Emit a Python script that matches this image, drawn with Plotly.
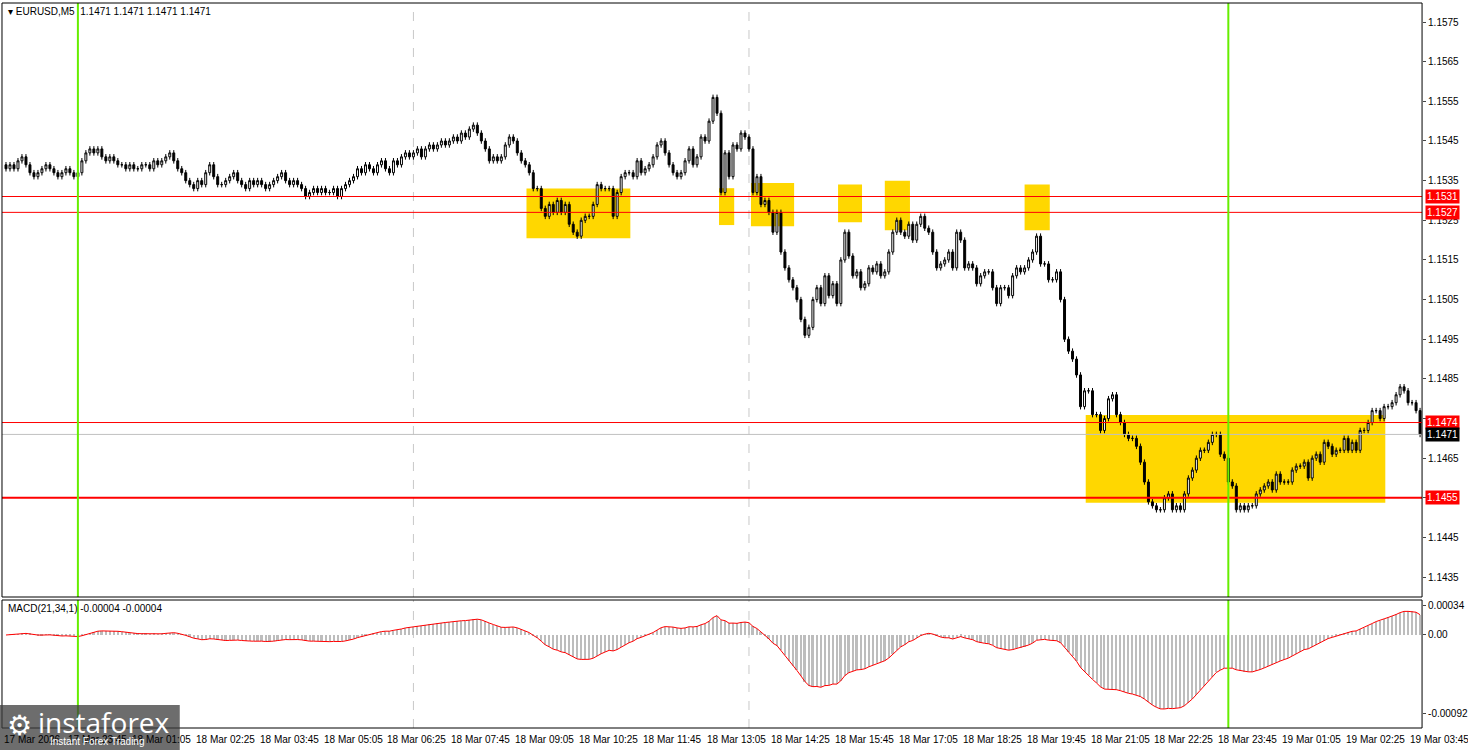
import plotly.graph_objects as go
import pandas as pd
import numpy as np

symbol = "EURUSD,M5"
start_time = "2026-03-17 22:30"
closes = [
 # i0-18
 1.1538,1.1539,1.1538,1.1540,1.1541,1.1539,1.1537,1.1536,1.1537,1.1538,1.1539,1.1538,1.1537,1.1536,1.1537,1.1538,1.1537,1.1536,1.1537,
 # i19-48
 1.1540,1.1542,1.1543,1.1542,1.1543,1.1541,1.1540,1.1541,1.1540,1.1539,1.1539,1.1538,1.1539,1.1538,1.1538,1.1539,1.1539,1.1538,1.1540,1.1539,
 1.1540,1.1541,1.1542,1.1540,1.1538,1.1537,1.1535,1.1534,1.1533,1.1535,
 # i49-85
 1.1534,1.1537,1.1539,1.1536,1.1534,1.1534,1.1535,1.1536,1.1537,1.1535,1.1534,1.1533,1.1535,1.1534,1.1535,1.1534,1.1533,1.1534,1.1535,1.1536,
 1.1537,1.1535,1.1534,1.1535,1.1534,1.1533,1.1531,1.1532,1.1533,1.1532,1.1533,1.1532,1.1532,1.1533,1.1531,1.1533,1.1534,
 # i86-101
 1.1535,1.1536,1.1538,1.1537,1.1539,1.1538,1.1537,1.1539,1.1540,1.1538,1.1537,1.1540,1.1539,1.1541,1.1542,1.1541,
 # i102-118
 1.1542,1.1543,1.1541,1.1543,1.1544,1.1543,1.1544,1.1545,1.1544,1.1545,1.1546,1.1545,1.1547,1.1546,1.1548,1.1549,1.1547,
 # i119-180
 1.1545,1.1543,1.1540,1.1541,1.1540,1.1541,1.1544,1.1546,1.1545,1.1542,1.1540,1.1539,1.1537,1.1533,1.1533,1.1528,1.1526,1.1529,1.1527,1.1530,
 1.1527,1.1529,1.1524,1.1522,1.1521,1.1525,1.1526,1.1526,1.1529,1.1534,1.1533,1.1533,1.1533,1.1526,1.1532,1.1536,1.1537,1.1537,1.1536,1.1540,
 1.1537,1.1538,1.1539,1.1541,1.1544,1.1545,1.1542,1.1539,1.1537,1.1536,1.1537,1.1540,1.1543,1.1539,1.1541,1.1546,1.1545,1.1550,1.1556,1.1552,
 1.1532,1.1542,
 # i181-235
 1.1536,1.1544,1.1543,1.1547,1.1546,1.1543,1.1532,1.1536,1.1529,1.1530,1.1527,1.1522,1.1527,1.1517,1.1513,1.1510,1.1508,1.1505,1.1500,1.1496,
 1.1498,1.1505,1.1508,1.1504,1.1511,1.1506,1.1509,1.1504,1.1515,1.1522,1.1516,1.1511,1.1512,1.1508,1.1509,1.1513,1.1512,1.1514,1.1511,1.1512,
 1.1517,1.1522,1.1525,1.1522,1.1521,1.1524,1.1520,1.1524,1.1526,1.1523,1.1522,1.1517,1.1513,1.1514,1.1515,
 # i236-292
 1.1517,1.1513,1.1522,1.1520,1.1513,1.1514,1.1513,1.1509,1.1511,1.1512,1.1512,1.1508,1.1504,1.1508,1.1508,1.1506,1.1511,1.1513,1.1512,1.1513,
 1.1515,1.1517,1.1521,1.1514,1.1514,1.1510,1.1510,1.1512,1.1505,1.1495,1.1492,1.1490,1.1486,1.1478,1.1482,1.1482,1.1476,1.1476,1.1472,1.1475,
 1.1480,1.1481,1.1476,1.1474,1.1471,1.1470,1.1470,1.1468,1.1464,1.1459,1.1454,1.1453,1.1452,1.1452,1.1455,1.1456,1.1452,
 # i293-354
 1.1453,1.1452,1.1456,1.1460,1.1462,1.1465,1.1467,1.1467,1.1469,1.1471,1.1471,1.1466,1.1465,1.1459,1.1458,1.1452,1.1453,1.1452,1.1453,1.1453,
 1.1456,1.1457,1.1458,1.1459,1.1457,1.1461,1.1459,1.1459,1.1459,1.1462,1.1463,1.1463,1.1464,1.1460,1.1465,1.1466,1.1464,1.1469,1.1468,1.1466,
 1.1467,1.1467,1.1470,1.1467,1.1469,1.1467,1.1472,1.1472,1.1474,1.1477,1.1477,1.1475,1.1478,1.1478,1.1479,1.1481,1.1483,1.1482,1.1479,1.1479,
 1.1477,1.1471,
]
first_open = 1.1539
wick = 0.00007

levels_red = [1.1531, 1.1527, 1.1474]
level_main = 1.1455
level_bid = 1.1471
# yellow zones: (start bar, end bar, low price, high price)
zones = [(130.3, 156.3, 1.15205, 1.15330), (178.5, 182.3, 1.15238, 1.15331),
         (186.5, 197.3, 1.15235, 1.15344), (208.3, 214.3, 1.15245, 1.15340),
         (220.0, 226.3, 1.15225, 1.15350), (255.0, 261.3, 1.15225, 1.15340),
         (270.3, 345.3, 1.14538, 1.14759)]
separator_bars = [18, 306]
grid_bars = [102, 186]
price_ticks = [1.1575,1.1565,1.1555,1.1545,1.1535,1.1525,1.1515,1.1505,1.1495,1.1485,1.1475,1.1465,1.1455,1.1445,1.1435]
hidden_ticks = [1.1475, 1.1455]
label_every = 16
first_label_bar = 15
macd_fast, macd_slow = 21, 34

n = len(closes)
idx = list(range(n))
opens = [first_open] + closes[:-1]
highs = [max(o, c) + wick for o, c in zip(opens, closes)]
lows = [min(o, c) - wick for o, c in zip(opens, closes)]
s = pd.Series(closes)
macd = (s.ewm(span=macd_fast, adjust=False).mean() - s.ewm(span=macd_slow, adjust=False).mean()).values

times = pd.date_range(start_time, periods=n + 20, freq="5min")

fig = go.Figure()
fig.add_trace(go.Candlestick(x=idx, open=opens, high=highs, low=lows, close=closes,
    increasing=dict(fillcolor="white", line=dict(color="black", width=1)),
    decreasing=dict(fillcolor="black", line=dict(color="black", width=1)),
    whiskerwidth=0, xaxis="x", yaxis="y", showlegend=False, hoverinfo="skip"))
fig.add_trace(go.Bar(x=idx, y=macd, marker=dict(color="#bdbdbd", line=dict(width=0)), width=0.5,
    xaxis="x2", yaxis="y2", showlegend=False))
fig.add_trace(go.Scatter(x=idx, y=macd, mode="lines", line=dict(color="red", width=1),
    xaxis="x2", yaxis="y2", showlegend=False))

xr = [-1, 354.5]
W, H = 1468, 750
xdom = [2 / W, 1424 / W]
FF = "Liberation Sans, Arial, sans-serif"
fnt = dict(family=FF, size=10, color="black")
fig.update_layout(width=W, height=H, margin=dict(l=0, r=0, t=0, b=0),
    paper_bgcolor="white", plot_bgcolor="white", font=fnt, bargap=0,
    xaxis=dict(domain=xdom, range=xr, showticklabels=False, showgrid=False, zeroline=False,
               rangeslider=dict(visible=False), anchor="y"),
    yaxis=dict(domain=[1 - 597 / H, 1 - 3 / H], range=[1.14300, 1.15798], side="right",
               tickvals=price_ticks,
               ticktext=["" if v in hidden_ticks else "%.4f" % v for v in price_ticks],
               ticks="outside", ticklen=3,
               showgrid=False, zeroline=False, anchor="x", tickfont=fnt),
    yaxis2=dict(domain=[1 - 728 / H, 1 - 600 / H], range=[-0.00109, 0.00041], side="right",
                tickvals=[0.00034, 0, -0.00092], ticktext=["0.00034", "0.00", "-0.00092"],
                ticks="outside", ticklen=3, showgrid=False, zeroline=False, anchor="x2", tickfont=fnt),
    xaxis2=dict(domain=xdom, range=xr, showticklabels=False, showgrid=False, zeroline=False, anchor="y2"))

shapes = []
for a, b, lo, hi in zones:
    shapes.append(dict(type="rect", xref="x", yref="y", x0=a, x1=b, y0=lo, y1=hi,
                       fillcolor="#FFD700", line=dict(width=0), layer="below"))
for g in grid_bars:
    for ya in ["y domain", "y2 domain"]:
        shapes.append(dict(type="line", xref="x", yref=ya, x0=g, x1=g, y0=0, y1=1,
                           line=dict(color="#c8c8c8", width=1, dash="dash"), layer="below"))
for lv in levels_red:
    shapes.append(dict(type="line", xref="x domain", yref="y", x0=0, x1=1, y0=lv, y1=lv,
                       line=dict(color="red", width=1)))
shapes.append(dict(type="line", xref="x domain", yref="y", x0=0, x1=1, y0=level_main, y1=level_main,
                   line=dict(color="red", width=2)))
shapes.append(dict(type="line", xref="x domain", yref="y", x0=0, x1=1, y0=level_bid, y1=level_bid,
                   line=dict(color="#c0c0c0", width=1)))
for sb in separator_bars:
    for ya in ["y domain", "y2 domain"]:
        shapes.append(dict(type="line", xref="x", yref=ya, x0=sb, x1=sb, y0=0, y1=1,
                           line=dict(color="#66ee00", width=2)))
for xa, ya in [("x domain", "y domain"), ("x2 domain", "y2 domain")]:
    shapes.append(dict(type="rect", xref=xa, yref=ya, x0=0, x1=1, y0=0, y1=1,
                       line=dict(color="black", width=1)))
shapes.append(dict(type="rect", xref="paper", yref="paper", x0=0, x1=180 / W, y0=0, y1=1 - 705 / H,
                   fillcolor="rgba(60,60,60,0.75)", line=dict(width=0)))
fig.update_layout(shapes=shapes)

ann = []
ann.append(dict(xref="paper", yref="paper", x=6 / W, y=1 - 11 / H, xanchor="left", yanchor="middle",
                text="▾ " + symbol + "  " + " ".join(["%.4f" % closes[-1]] * 4), showarrow=False, font=fnt))
ann.append(dict(xref="paper", yref="paper", x=6 / W, y=1 - 608 / H, xanchor="left", yanchor="middle",
                text="MACD(%d,%d,1) %.5f %.5f" % (macd_fast, macd_slow, -0.00004, -0.00004), showarrow=False, font=fnt))
for lv in levels_red + [level_main]:
    ann.append(dict(xref="paper", yref="y", x=1427 / W, y=lv, xanchor="left", yanchor="middle",
                    text="%.4f" % lv, showarrow=False, bgcolor="red", borderpad=1,
                    font=dict(family=FF, size=10, color="white")))
ann.append(dict(xref="paper", yref="y", x=1427 / W, y=level_bid, xanchor="left", yanchor="middle",
                text="%.4f" % level_bid, showarrow=False, bgcolor="black", borderpad=1,
                font=dict(family=FF, size=10, color="white")))
ann.append(dict(xref="x", yref="paper", x=-1, y=1 - 739 / H, xanchor="left", yanchor="middle",
                text="17 Mar 2026", showarrow=False, font=fnt))
for b in range(first_label_bar, n, label_every):
    t = times[b]
    ann.append(dict(xref="x", yref="paper", x=b, y=1 - 739 / H, xanchor="left", yanchor="middle",
                    text=t.strftime("%-d %b %H:%M"), showarrow=False, font=fnt))
ann.append(dict(xref="paper", yref="paper", x=36 / W, y=1 - 722 / H, xanchor="left", yanchor="middle",
                text="instaforex", showarrow=False,
                font=dict(family="Open Sans", size=28, color="white")))
ann.append(dict(xref="paper", yref="paper", x=48 / W, y=1 - 741 / H, xanchor="left", yanchor="middle",
                text="Instant Forex Trading", showarrow=False,
                font=dict(family=FF, size=10, color="white")))
ann.append(dict(xref="paper", yref="paper", x=20 / W, y=1 - 725 / H, xanchor="center", yanchor="middle",
                text="⚙", showarrow=False, font=dict(size=28, color="white")))
fig.update_layout(annotations=ann)

fig.write_html("out.html", config={"displayModeBar": False},
               post_script="document.body.style.margin='0';document.body.style.overflow='hidden';")
